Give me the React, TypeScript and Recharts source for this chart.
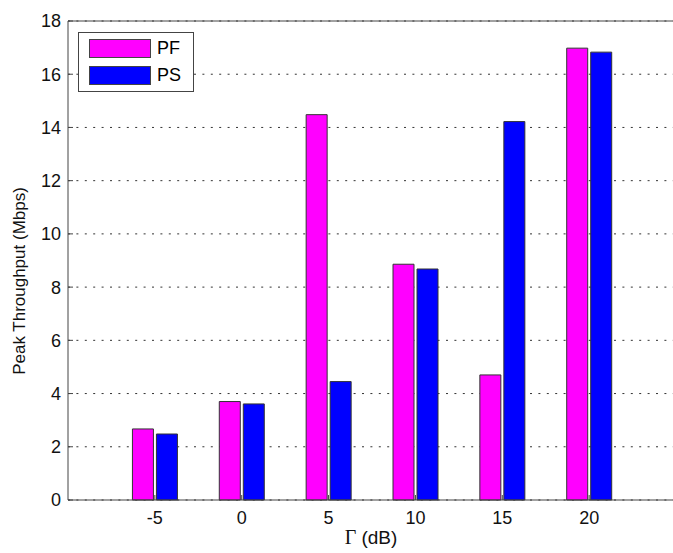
import React from 'react';
import { BarChart, Bar, XAxis, YAxis, CartesianGrid, Legend } from 'recharts';

const gammaDb = [-5, 0, 5, 10, 15, 20];
const pfValues = [2.67, 3.7, 14.48, 8.86, 4.7, 16.98];
const psValues = [2.48, 3.61, 4.45, 8.68, 14.22, 16.83];
const xTicks = [-5, 0, 5, 10, 15, 20];
const yTicks = [0, 2, 4, 6, 8, 10, 12, 14, 16, 18];
const seriesNames = ['PF', 'PS'];
const seriesColors = ['#ff00ff', '#0000ff'];
const xLabelSymbol = 'Γ';
const xLabelUnit = ' (dB)';
const yLabelText = 'Peak Throughput (Mbps)';

const data = gammaDb.map((g, i) => ({ g, PF: pfValues[i], PS: psValues[i] }));

const FONT = '"Liberation Sans", Arial, sans-serif';
const AXIS = '#444';

const LegendBox = () => (
  <div
    style={{
      position: 'relative',
      width: 114,
      height: 58,
      border: `1px solid ${AXIS}`,
      background: '#fff',
      fontFamily: FONT,
      fontSize: 18,
      color: '#000',
    }}
  >
    {seriesNames.map((name, i) => (
      <div key={name} style={{ position: 'absolute', left: 10, top: 6 + i * 27, height: 19, display: 'flex', alignItems: 'center' }}>
        <div style={{ width: 60, height: 17, background: seriesColors[i], border: `1px solid ${AXIS}` }} />
        <span style={{ marginLeft: 6, lineHeight: '19px' }}>{name}</span>
      </div>
    ))}
  </div>
);

export default function App() {
  return (
    <div style={{ position: 'absolute', left: 0, top: 0, width: 673, height: 553, background: '#fff' }}>
      <BarChart
        width={673}
        height={553}
        data={data}
        margin={{ top: 20, right: -4, bottom: 0, left: 0 }}
        barSize={21}
        barGap={3}
      >
        <CartesianGrid vertical={false} stroke="#333" strokeDasharray="2 6.4" />
        <XAxis
          dataKey="g"
          type="number"
          domain={[-10, 25]}
          ticks={xTicks}
          interval={0}
          height={53}
          stroke={AXIS}
          tickSize={-5}
          tickMargin={16}
          tick={{ fill: '#111', fontSize: 18, fontFamily: FONT }}
          label={{
            content: () => (
              <text x={371} y={544} textAnchor="middle" fill="#111" fontSize={19} fontFamily={FONT}>
                <tspan fontFamily='"Liberation Serif", "Times New Roman", serif' fontSize={20}>{xLabelSymbol}</tspan>
                <tspan>{xLabelUnit}</tspan>
              </text>
            ),
          }}
        />
        <XAxis
          xAxisId="top"
          orientation="top"
          type="number"
          domain={[-10, 25]}
          allowDataOverflow
          ticks={xTicks}
          height={1}
          stroke={AXIS}
          tickSize={-5}
          tick={false}
        />
        <YAxis
          type="number"
          domain={[0, 18]}
          ticks={yTicks}
          interval={0}
          width={68}
          stroke={AXIS}
          tickSize={-5}
          tickMargin={12}
          tick={{ fill: '#111', fontSize: 18, fontFamily: FONT }}
          label={{
            content: () => (
              <text
                x={19}
                y={281}
                transform="rotate(-90 19 281)"
                textAnchor="middle"
                dominantBaseline="central"
                fill="#111"
                fontSize={17}
                fontFamily={FONT}
              >
                {yLabelText}
              </text>
            ),
          }}
        />
        <YAxis
          yAxisId="r"
          orientation="right"
          type="number"
          domain={[0, 18]}
          allowDataOverflow
          ticks={yTicks}
          width={1}
          stroke={AXIS}
          tickSize={-5}
          tick={false}
        />
        <Legend
          layout="vertical"
          align="center"
          verticalAlign="middle"
          wrapperStyle={{ left: 78, top: 32, width: 'auto', height: 'auto' }}
          content={() => <LegendBox />}
        />
        <Bar dataKey="PF" name={seriesNames[0]} fill={seriesColors[0]} stroke="#333" strokeWidth={1} isAnimationActive={false} />
        <Bar dataKey="PS" name={seriesNames[1]} fill={seriesColors[1]} stroke="#333" strokeWidth={1} isAnimationActive={false} />
      </BarChart>
    </div>
  );
}
